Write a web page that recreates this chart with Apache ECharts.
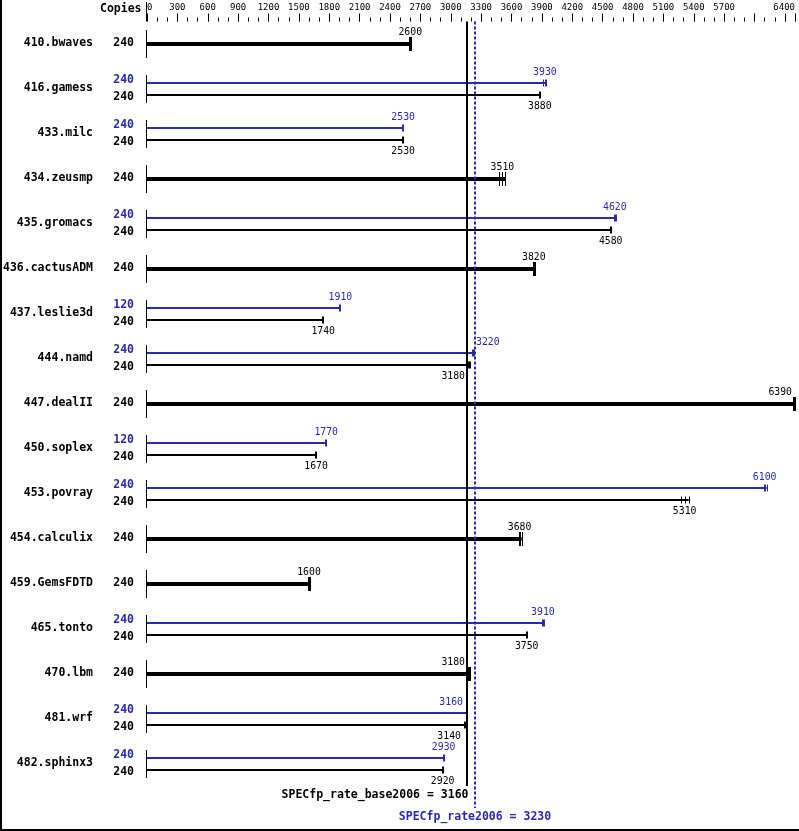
<!DOCTYPE html>
<html><head><meta charset="utf-8">
<style>html,body{margin:0;padding:0;background:#fff}#c{width:799px;height:831px}</style>
<script src="https://cdn.jsdelivr.net/npm/echarts@6/dist/echarts.min.js"></script>
</head><body><div id="c"></div>
<script>
const categories = ['410.bwaves','416.gamess','433.milc','434.zeusmp','435.gromacs','436.cactusADM','437.leslie3d','444.namd','447.dealII','450.soplex','453.povray','454.calculix','459.GemsFDTD','465.tonto','470.lbm','481.wrf','482.sphinx3'];
const baseValues = [2600,3880,2530,3510,4580,3820,1740,3180,6390,1670,5310,3680,1600,3750,3180,3140,2920];
const peakValues = [null,3930,2530,null,4620,null,1910,3220,null,1770,6100,null,null,3910,null,3160,2930];
const baseCopies = [240,240,240,240,240,240,240,240,240,240,240,240,240,240,240,240,240];
const peakCopies = [null,240,240,null,240,null,120,240,null,120,240,null,null,240,null,240,240];
const baseRuns = [null,null,null,[3480,3510,3540],null,null,null,[3170,3180,3190],[6380,6390,6400],null,[5270,5310,5350],[3670,3680,3700],null,null,null,null,null];
const peakRuns = [null,[3910,3930,3940],null,null,[4610,4620,4630],null,null,[3210,3220,3230],null,null,[6090,6100,6120],null,null,[3900,3910,3920],null,null,null];
const tickLabels = [0,300,600,900,1200,1500,1800,2100,2400,2700,3000,3300,3600,3900,4200,4500,4800,5100,5400,5700,6400];
const baseScore = 3160;
const peakScore = 3230;
const baseScoreLabel = 'SPECfp_rate_base2006 = 3160';
const peakScoreLabel = 'SPECfp_rate2006 = 3230';

const BLUE = '#2a2aaa', BLACK = '#000';
const MONO = '"DejaVu Sans Mono", monospace';
const BOLD = 'bold 11.5px ' + MONO;
const SMALL = '9.8px ' + MONO;

function rowItem(params, api) {
  const i = params.dataIndex;
  const p0 = api.coord([0, i]);
  const x0 = p0[0], yc = p0[1];
  const xb = api.coord([baseScore, i])[0], xp = api.coord([peakScore, i])[0];
  const right = params.coordSys.x + params.coordSys.width;
  const ch = [];
  const line = (x1, y1, x2, y2, color, w) => ch.push({type: 'line', shape: {x1, y1, x2, y2}, style: {stroke: color, lineWidth: w}});
  const text = (s, x, y, color, font, align) => ch.push({type: 'text', style: {text: String(s), x, y, fill: color, font, align, verticalAlign: 'middle'}});
  line(x0 - 0.5, yc - 14, x0 - 0.5, yc + 14, BLACK, 1);
  text(categories[i], x0 - 54, yc - 1, BLACK, BOLD, 'right');
  const hasPeak = peakValues[i] != null;
  const bars = hasPeak ? [
    {v: peakValues[i], runs: peakRuns[i], copies: peakCopies[i], dy: -6, color: BLUE, above: true, copyDy: -9, thick: false},
    {v: baseValues[i], runs: baseRuns[i], copies: baseCopies[i], dy: 6, color: BLACK, above: false, copyDy: 8.5, thick: false}
  ] : [
    {v: baseValues[i], runs: baseRuns[i], copies: baseCopies[i], dy: 0, color: BLACK, above: true, copyDy: -1, thick: true}
  ];
  bars.forEach(b => {
    const y = yc + b.dy;
    const runs = b.runs || [b.v];
    const xEnd = api.coord([Math.max.apply(null, runs), i])[0];
    line(x0, y, xEnd, y, b.color, b.thick ? 4 : 2);
    const capH = b.thick ? 7 : 3.5;
    const xv = api.coord([b.v, i])[0];
    if (runs.length === 1) {
      const xc = b.thick ? Math.round(xv) + 0.5 : Math.round(xv);
      line(xc, y - capH, xc, y + capH, b.color, b.thick ? 3 : 2);
    } else {
      runs.forEach(r => { const x = Math.round(api.coord([r, i])[0]) + 0.5; line(x, y - capH, x, y + capH, b.color, 1); });
    }
    let lx = xv, align = 'center';
    if (Math.abs(xv - xb) < 13 || Math.abs(xv - xp) < 13) {
      if (b.v > (baseScore + peakScore) / 2) { align = 'left'; lx = xv + 3; }
      else { align = 'right'; lx = xv - 4; }
    } else if (xv + 13 > right - 2) { align = 'right'; lx = right - 3; }
    const ly = b.above ? y - (b.thick ? 12 : 11) : y + 11.5;
    text(b.v, lx, ly, b.color, SMALL, align);
    text(b.copies, x0 - 13, yc + b.copyDy, b.color, BOLD, 'right');
  });
  return {type: 'group', children: ch};
}

function summaryItem(params, api) {
  const n = categories.length;
  const top = api.coord([0, -0.5]);
  const x0 = top[0], yTop = top[1];
  const yLast = api.coord([0, n - 1])[1];
  const xb = Math.round(api.coord([baseScore, 0])[0]);
  const xp = Math.round(api.coord([peakScore, 0])[0]) + 1;
  return {type: 'group', children: [
    {type: 'line', shape: {x1: x0 - 0.5, y1: 2, x2: x0 - 0.5, y2: yTop}, style: {stroke: BLACK, lineWidth: 1}},
    {type: 'line', shape: {x1: xb, y1: yTop, x2: xb, y2: yLast + 22}, style: {stroke: BLACK, lineWidth: 2}},
    {type: 'line', shape: {x1: xp, y1: yTop, x2: xp, y2: yLast + 44}, style: {stroke: BLUE, lineWidth: 2, lineDash: [3, 2]}},
    {type: 'text', style: {text: baseScoreLabel, x: xb + 1.5, y: yLast + 31, fill: BLACK, font: BOLD, align: 'right', verticalAlign: 'middle'}},
    {type: 'text', style: {text: peakScoreLabel, x: xp, y: yLast + 53, fill: BLUE, font: BOLD, align: 'center', verticalAlign: 'middle'}},
    {type: 'text', style: {text: 'Copies', x: x0 - 5.5, y: 9.5, fill: BLACK, font: BOLD, align: 'right', verticalAlign: 'middle'}}
  ]};
}

const chart = echarts.init(document.getElementById('c'), null, {renderer: 'canvas'});
chart.setOption({
  animation: false,
  backgroundColor: '#fff',
  grid: {left: 147, right: 4, top: 21.5, bottom: 22, containLabel: false, outerBoundsMode: 'none'},
  xAxis: [
    {type: 'value', position: 'top', min: 0, max: 6400, interval: 100,
     axisLine: {show: false, onZero: false}, splitLine: {show: false},
     axisTick: {show: true, length: 4, lineStyle: {color: BLACK, width: 1}},
     axisLabel: {show: false}},
    {type: 'value', position: 'top', min: 0, max: 6400, interval: 300,
     axisLine: {show: false, onZero: false}, splitLine: {show: false},
     axisTick: {show: true, length: 8, lineStyle: {color: BLACK, width: 1}},
     axisLabel: {show: true, margin: 9.5, color: BLACK, fontSize: 9, fontFamily: 'DejaVu Sans Mono',
       formatter: v => tickLabels.indexOf(v) < 0 ? '' : (v === 0 ? ' 0' : (v === 6400 ? '6400    ' : String(v)))}}
  ],
  yAxis: {type: 'value', inverse: true, min: -0.5, max: 17, show: false},
  graphic: [
    {type: 'rect', shape: {x: 0, y: 0, width: 2, height: 831}, style: {fill: BLACK}},
    {type: 'rect', shape: {x: 0, y: 829, width: 799, height: 2}, style: {fill: BLACK}}
  ],
  series: [
    {type: 'custom', xAxisIndex: 0, renderItem: rowItem, clip: false,
     data: categories.map((c, i) => [0, i]), encode: {x: 0, y: 1}},
    {type: 'custom', xAxisIndex: 0, renderItem: summaryItem, clip: false,
     data: [[0, 0]], encode: {x: 0, y: 1}}
  ]
});
</script></body></html>
